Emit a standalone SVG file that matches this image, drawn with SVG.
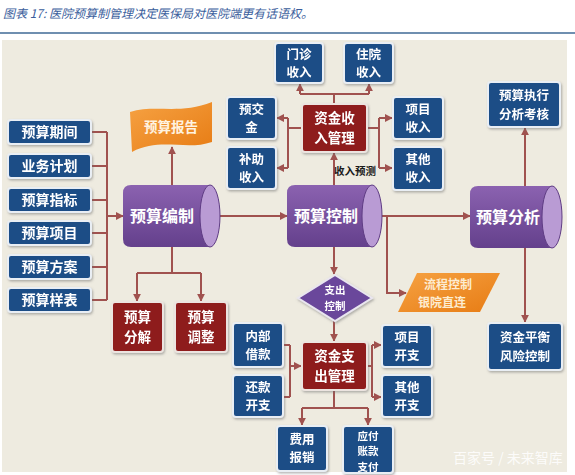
<svg xmlns="http://www.w3.org/2000/svg" width="575" height="475" viewBox="0 0 575 475">
<style>
text{font-family:"Noto Sans CJK SC","Noto Sans",sans-serif;font-weight:bold;text-anchor:middle;fill:#ffffff}
.title{font-style:italic;font-weight:normal;text-anchor:start;fill:#3b5e9c;font-size:12px}
.blue{fill:#1f4d86;stroke:#e9eef4;stroke-width:2}
.red{fill:#8e1d1f;stroke:#ece4e0;stroke-width:2}
.t14{font-size:14px}
.t135{font-size:13.5px}
.t125{font-size:12.5px}
.t12{font-size:12px}
.t16{font-size:16px}
.cyl{fill:url(#pg)}
.cap{fill:#b99bd4;stroke:#5f3c84;stroke-width:1}
.con{fill:none;stroke:#a0524f;stroke-width:2}
.arr{fill:none;stroke:#a0524f;stroke-width:2;marker-end:url(#ah)}
</style>
<defs>
<marker id="ah" viewBox="0 0 10 10" refX="9" refY="5" markerWidth="4" markerHeight="4" orient="auto" markerUnits="strokeWidth">
<path d="M0,0L10,5L0,10z" fill="#a0524f"/>
</marker>
<linearGradient id="pg" x1="0" y1="0" x2="0" y2="1">
<stop offset="0" stop-color="#8b62b0"/>
<stop offset="1" stop-color="#64408c"/>
</linearGradient>
<linearGradient id="og" x1="0" y1="0" x2="1" y2="1">
<stop offset="0" stop-color="#f6a243"/>
<stop offset="1" stop-color="#e77c14"/>
</linearGradient>
<filter id="sh" x="-20%" y="-20%" width="140%" height="140%">
<feDropShadow dx="1" dy="1.5" stdDeviation="1.2" flood-color="#6b6b6b" flood-opacity="0.5"/>
</filter>
</defs>
<rect x="0" y="0" width="575" height="475" fill="#ffffff"/>
<text class="title" x="3" y="18">图表 17: 医院预算制管理决定医保局对医院端更有话语权。</text>
<line x1="0" y1="33" x2="575" y2="33" stroke="#6f8fb0" stroke-width="2"/>
<rect x="2" y="40" width="565" height="432" fill="#eeebe0"/>

<g id="connectors">
<path class="con" d="M91,132H107M91,166H107M91,200H107M91,233H107M91,267H107M91,300H107M107,132V300"/>
<path class="arr" d="M107,216H123"/>
<path class="arr" d="M210,216H287"/>
<path class="arr" d="M372,216H470"/>
<path class="arr" d="M387,216V293H406"/>
<path class="arr" d="M172,185V147"/>
<path class="con" d="M172,247V273M137,273H201"/>
<path class="arr" d="M137,273V301"/>
<path class="arr" d="M201,273V301"/>
<path class="arr" d="M334,185V153"/>
<path class="con" d="M334,104V94M300,94H369"/>
<path class="arr" d="M300,94V84"/>
<path class="arr" d="M369,94V84"/>
<path class="con" d="M302,128H288M288,118V168"/>
<path class="arr" d="M288,118H277"/>
<path class="arr" d="M288,168H277"/>
<path class="con" d="M367,128H379M379,118V168"/>
<path class="arr" d="M379,118H392"/>
<path class="arr" d="M379,168H392"/>
<path class="arr" d="M525,187V128"/>
<path class="arr" d="M525,248V322"/>
<path class="arr" d="M334,247V274"/>
<path class="arr" d="M334,321V341"/>
<path class="con" d="M283,345H290M283,397H290M290,345V397"/>
<path class="arr" d="M290,366H301"/>
<path class="con" d="M367,366H372M372,345V397"/>
<path class="arr" d="M372,345H381"/>
<path class="arr" d="M372,397H381"/>
<path class="con" d="M334,390V408M302,408H368"/>
<path class="arr" d="M302,408V425"/>
<path class="arr" d="M368,408V425"/>
</g>
<text x="355" y="175" style="font-size:10.5px;fill:#1a1a1a">收入预测</text>

<g id="n-qijian" filter="url(#sh)"><rect class="blue" x="8" y="120" width="83" height="24" rx="3"/><text class="t14" x="49.5" y="137">预算期间</text></g>
<g id="n-yewu" filter="url(#sh)"><rect class="blue" x="8" y="154" width="83" height="24" rx="3"/><text class="t14" x="49.5" y="171">业务计划</text></g>
<g id="n-zhibiao" filter="url(#sh)"><rect class="blue" x="8" y="188" width="83" height="24" rx="3"/><text class="t14" x="49.5" y="205">预算指标</text></g>
<g id="n-xiangmu" filter="url(#sh)"><rect class="blue" x="8" y="221" width="83" height="24" rx="3"/><text class="t14" x="49.5" y="238">预算项目</text></g>
<g id="n-fangan" filter="url(#sh)"><rect class="blue" x="8" y="255" width="83" height="24" rx="3"/><text class="t14" x="49.5" y="272">预算方案</text></g>
<g id="n-yangbiao" filter="url(#sh)"><rect class="blue" x="8" y="288" width="83" height="24" rx="3"/><text class="t14" x="49.5" y="305">预算样表</text></g>

<g id="n-baogao">
<path d="M130,112C155,104 180,115 212,102L212,142C186,151 160,137 132,152Z" fill="url(#og)"/>
<text class="t135" x="171" y="132" style="fill:#fff3e0">预算报告</text>
</g>

<g id="n-bianzhi">
<path class="cyl" d="M131,185H210V247H131Q123,247 123,239V193Q123,185 131,185Z"/>
<ellipse class="cap" cx="210" cy="216" rx="10" ry="31"/>
<text class="t16" x="162" y="222">预算编制</text>
</g>
<g id="n-kongzhi">
<path class="cyl" d="M295,185H372V247H295Q287,247 287,239V193Q287,185 295,185Z"/>
<ellipse class="cap" cx="372" cy="216" rx="10" ry="31"/>
<text class="t16" x="326" y="222">预算控制</text>
</g>
<g id="n-fenxi">
<path class="cyl" d="M478,186H552V248H478Q470,248 470,240V194Q470,186 478,186Z"/>
<ellipse class="cap" cx="552" cy="217" rx="10" ry="31"/>
<text class="t16" x="508" y="223">预算分析</text>
</g>

<g id="n-fenjie" filter="url(#sh)"><rect class="red" x="112" y="302" width="51" height="50" rx="3"/><text class="t135" x="137.5" y="322">预算</text><text class="t135" x="137.5" y="342">分解</text></g>
<g id="n-tiaozheng" filter="url(#sh)"><rect class="red" x="175" y="302" width="52" height="50" rx="3"/><text class="t135" x="201" y="322">预算</text><text class="t135" x="201" y="342">调整</text></g>

<g id="n-shouru" filter="url(#sh)"><rect class="red" x="302" y="104" width="65" height="48" rx="3"/><text class="t135" x="334.5" y="123">资金收</text><text class="t135" x="334.5" y="143">入管理</text></g>
<g id="n-menzhen" filter="url(#sh)"><rect class="blue" x="275" y="43" width="48" height="40" rx="3"/><text class="t125" x="299" y="59">门诊</text><text class="t125" x="299" y="77">收入</text></g>
<g id="n-zhuyuan" filter="url(#sh)"><rect class="blue" x="344" y="43" width="49" height="40" rx="3"/><text class="t125" x="368.5" y="59">住院</text><text class="t125" x="368.5" y="77">收入</text></g>
<g id="n-yujiao" filter="url(#sh)"><rect class="blue" x="227" y="97" width="49" height="42" rx="3"/><text class="t125" x="251.5" y="114">预交</text><text class="t125" x="251.5" y="132">金</text></g>
<g id="n-buzhu" filter="url(#sh)"><rect class="blue" x="227" y="147" width="49" height="42" rx="3"/><text class="t125" x="251.5" y="164">补助</text><text class="t125" x="251.5" y="182">收入</text></g>
<g id="n-xmshouru" filter="url(#sh)"><rect class="blue" x="393" y="97" width="50" height="42" rx="3"/><text class="t125" x="418" y="114">项目</text><text class="t125" x="418" y="132">收入</text></g>
<g id="n-qtshouru" filter="url(#sh)"><rect class="blue" x="393" y="147" width="50" height="43" rx="3"/><text class="t125" x="418" y="164">其他</text><text class="t125" x="418" y="182">收入</text></g>

<g id="n-zhixing" filter="url(#sh)"><rect class="blue" x="488" y="82" width="72" height="45" rx="3"/><text class="t125" x="524" y="100">预算执行</text><text class="t125" x="524" y="118.5">分析考核</text></g>
<g id="n-pingheng" filter="url(#sh)"><rect class="blue" x="488" y="323" width="74" height="47" rx="3"/><text class="t125" x="525" y="342">资金平衡</text><text class="t125" x="525" y="360.5">风险控制</text></g>

<g id="n-liucheng">
<path d="M417,273H500L480,312H398Z" fill="url(#og)"/>
<text class="t12" x="448" y="289" style="fill:#fdecd0">流程控制</text>
<text class="t12" x="442" y="306.5" style="fill:#fdecd0">银院直连</text>
</g>

<g id="n-zhichukz" filter="url(#sh)">
<path d="M335,275L372,298L335,321L298,298Z" fill="#6b479b" stroke="#e9e6ef" stroke-width="2"/>
<text x="335" y="294" style="font-size:10.5px">支出</text>
<text x="335" y="309.5" style="font-size:10.5px">控制</text>
</g>

<g id="n-zhichu" filter="url(#sh)"><rect class="red" x="302" y="342" width="65" height="48" rx="3"/><text class="t135" x="334.5" y="361">资金支</text><text class="t135" x="334.5" y="381">出管理</text></g>
<g id="n-jiekuan" filter="url(#sh)"><rect class="blue" x="233" y="323" width="50" height="44" rx="3"/><text class="t125" x="258" y="341">内部</text><text class="t125" x="258" y="359">借款</text></g>
<g id="n-huankuan" filter="url(#sh)"><rect class="blue" x="233" y="375" width="50" height="42" rx="3"/><text class="t125" x="258" y="392">还款</text><text class="t125" x="258" y="410">开支</text></g>
<g id="n-xmkaizhi" filter="url(#sh)"><rect class="blue" x="382" y="325" width="50" height="42" rx="3"/><text class="t125" x="407" y="342">项目</text><text class="t125" x="407" y="360">开支</text></g>
<g id="n-qtkaizhi" filter="url(#sh)"><rect class="blue" x="382" y="375" width="50" height="42" rx="3"/><text class="t125" x="407" y="392">其他</text><text class="t125" x="407" y="410">开支</text></g>
<g id="n-baoxiao" filter="url(#sh)"><rect class="blue" x="277" y="426" width="50" height="45" rx="3"/><text class="t125" x="302" y="444">费用</text><text class="t125" x="302" y="462">报销</text></g>
<g id="n-yingfu" filter="url(#sh)"><rect class="blue" x="343" y="426" width="50" height="47" rx="3"/><text x="368" y="439.5" style="font-size:10.5px">应付</text><text x="368" y="455" style="font-size:10.5px">账款</text><text x="368" y="470.5" style="font-size:10.5px">支付</text></g>

<text x="508" y="463" style="font-size:14px;font-weight:normal;fill:#ffffff;fill-opacity:0.85">百家号 / 未来智库</text>
</svg>
